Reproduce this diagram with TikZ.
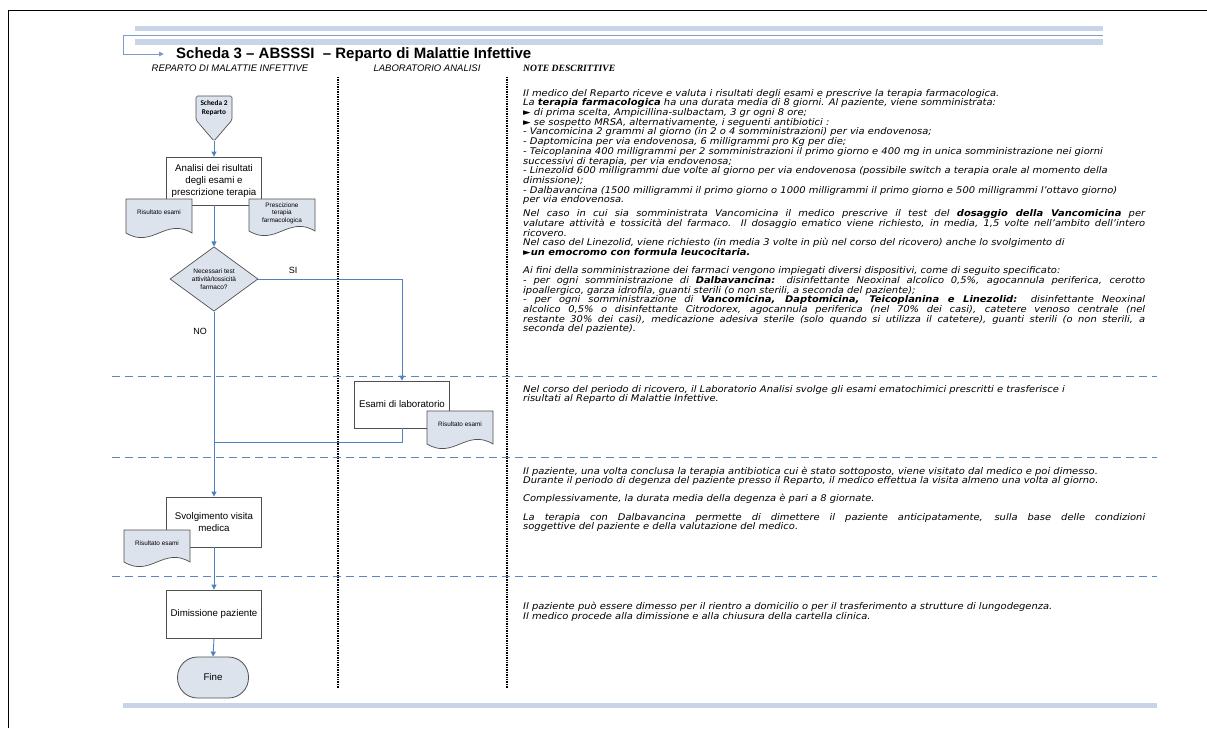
\documentclass[tikz,border=0pt]{standalone}
\usepackage{fontspec}
\setmainfont{Liberation Sans}
\newfontfamily\notefont[FakeStretch=1.08]{DejaVu Sans}
\newfontfamily\calfont{Carlito}
\newfontfamily\serfont{Liberation Serif}
\usetikzlibrary{arrows.meta,shapes.geometric}
\definecolor{connblue}{HTML}{4F81BD}
\definecolor{dashblue}{HTML}{5B85C5}
\definecolor{barblue}{HTML}{C8D4E8}
\definecolor{hdrblue}{HTML}{7C9CCB}
\definecolor{docfill}{HTML}{DCE3ED}
\definecolor{boxgray}{HTML}{505050}
\newcommand{\jl}[1]{\makebox[622pt][s]{#1}}
\newcommand{\docshape}[7]{%
  \filldraw[docstyle] (#2,#3) -- (#4,#3) -- (#4,#5)
    .. controls ({#2+0.6*(#4-#2)},{#5-16}) and ({#2+0.4*(#4-#2)},{#5+16}) .. (#2,#5) -- cycle;
  \node[doctext] (#1) at ({(#2+#4)/2},#6) {#7};
}
\tikzset{
  box/.style={draw=boxgray, fill=white, line width=0.8pt, align=center, inner sep=0pt,
    font=\fontsize{9.7}{12.2}\selectfont},
  docstyle/.style={draw=boxgray, fill=docfill, line width=0.7pt},
  doctext/.style={align=center, inner sep=0pt, font=\fontsize{6.4}{7.6}\selectfont},
  conn/.style={draw=connblue, line width=0.9pt},
  arr/.style={conn, -{Triangle[length=5pt,width=5pt]}},
  sep/.style={draw=dashblue, line width=1pt, dash pattern=on 8pt off 5pt},
  lane/.style={draw=black, line width=1.3pt, dash pattern=on 0.8pt off 0.9pt},
  notes/.style={anchor=north west, inner sep=0pt, align=left,
    font=\notefont\itshape\fontsize{9.2}{9.7}\selectfont},
  hdr/.style={inner sep=0pt, font=\itshape\fontsize{9.5}{11}\selectfont},
  lbl/.style={inner sep=0pt, font=\fontsize{9}{11}\selectfont},
}
\begin{document}
\begin{tikzpicture}[x=1pt,y=-1pt]
\useasboundingbox (0,0) rectangle (1207,728);
% frame
\draw[black, line width=1pt] (8,728) -- (8,10) -- (1207,10);
% header bars
\fill[barblue] (135,26) rectangle (1103,31);
\fill[barblue] (135,39) rectangle (1103,45);
\node[anchor=base west, inner sep=0pt, font=\bfseries\fontsize{15}{18}\selectfont] (title) at (176,58)
  {Scheda 3 -- ABSSSI \ -- Reparto di Malattie Infettive};
\coordinate (h0) at (1103,35);
\coordinate (h1) at (164,54);
\draw[draw=hdrblue, line width=0.9pt, -{Triangle[length=5pt,width=4.5pt]}] (h0) -- (123,35) -- (123,54) -- (h1);
% column headers
\node[hdr] (c1) at (230,68) {REPARTO DI MALATTIE INFETTIVE};
\node[hdr] (c2) at (427,68) {LABORATORIO ANALISI};
\node[anchor=west, inner sep=0pt, font=\serfont\bfseries\itshape\fontsize{9.6}{11}\selectfont] (c3) at (523,68) {NOTE DESCRITTIVE};
% lanes
\draw[lane] (338,77) -- (338,688);
\draw[lane] (507,77) -- (507,688);
\draw[sep] (112,376) -- (1157,376);
\draw[sep] (112,457) -- (1157,457);
\draw[sep] (112,576) -- (1157,576);
\fill[barblue] (123,703) rectangle (1157,708);
% off-page connector
\filldraw[docstyle, rounded corners=1.5pt] (196,96) -- (232,96) -- (232,120) -- (214,141) -- (196,120) -- cycle;
\node[align=center, inner sep=0pt, font=\calfont\bfseries\fontsize{7.3}{8.6}\selectfont] (scheda) at (214,108) {Scheda 2\\Reparto};
\coordinate (sch) at (214,141);
% flow boxes
\node[box, minimum width=95pt, minimum height=48pt] (analisi) at (214,181)
  {Analisi dei risultati\\degli esami e\\prescrizione terapia};
\docshape{d1}{126}{199}{192}{233}{212}{Risultato esami}
\docshape{d2}{249}{199}{315}{231}{213}{Prescizione\\terapia\\farmacologica}
\node[diamond, draw=boxgray, fill=docfill, line width=0.7pt, minimum width=88pt, minimum height=52pt,
  inner sep=0pt, align=center, font=\fontsize{6.5}{7.8}\selectfont] (dec) at (214,279)
  {Necessari test\\attività/tossicità\\farmaco?};
\node[box, minimum width=95pt, minimum height=47pt] (esami) at (402,404.5) {Esami di laboratorio};
\docshape{d3}{427}{411}{493}{444}{424}{Risultato esami}
\node[box, minimum width=95pt, minimum height=50pt] (svolg) at (214,522) {Svolgimento visita\\medica};
\docshape{d4}{124}{530}{190}{562}{543}{Risultato esami}
\node[box, minimum width=95pt, minimum height=48pt] (dimis) at (214,614) {Dimissione paziente};
\node[draw=boxgray, fill=docfill, line width=0.8pt, rounded corners=20pt, minimum width=71pt,
  minimum height=41pt, inner sep=0pt, font=\fontsize{9.7}{12}\selectfont] (fine) at (213,677.5) {Fine};
\coordinate (join) at (214,442);
% connectors
\draw[arr] (sch) -- (analisi.north);
\draw[arr] (analisi.south) -- (dec.north);
\draw[arr] (dec.east) -| (esami.north);
\draw[arr] (dec.south) -- (svolg.north);
\draw[conn] (esami.south) |- (join);
\draw[arr] (svolg.south) -- (dimis.north);
\draw[arr] (dimis.south) -- (fine.north);
\node[lbl] (si) at (293,270) {SI};
\node[lbl] (no) at (200,331) {NO};
% notes
\node[notes] (n1) at (523,89) {%
Il medico del Reparto riceve e valuta i risultati degli esami e prescrive la terapia farmacologica.\\
La \textbf{terapia farmacologica} ha una durata media di 8 giorni. Al paziente, viene somministrata:\\
► di prima scelta, Ampicillina-sulbactam, 3 gr ogni 8 ore;\\
► se sospetto MRSA, alternativamente, i seguenti antibiotici :\\
- Vancomicina 2 grammi al giorno (in 2 o 4 somministrazioni) per via endovenosa;\\
- Daptomicina per via endovenosa, 6 milligrammi pro Kg per die;\\
- Teicoplanina 400 milligrammi per 2 somministrazioni il primo giorno e 400 mg in unica somministrazione nei giorni\\
successivi di terapia, per via endovenosa;\\
- Linezolid 600 milligrammi due volte al giorno per via endovenosa (possibile switch a terapia orale al momento della\\
dimissione);\\
- Dalbavancina (1500 milligrammi il primo giorno o 1000 milligrammi il primo giorno e 500 milligrammi l’ottavo giorno)\\
per via endovenosa.\\[4.3pt]
\jl{Nel caso in cui sia somministrata Vancomicina il medico prescrive il test del \textbf{dosaggio della Vancomicina} per}\\
\jl{valutare attività e tossicità del farmaco. Il dosaggio ematico viene richiesto, in media, 1,5 volte nell’ambito dell’intero}\\
ricovero.\\
Nel caso del Linezolid, viene richiesto (in media 3 volte in più nel corso del ricovero) anche lo svolgimento di\\
\textbf{►un emocromo con formula leucocitaria.}\\[8.3pt]
Ai fini della somministrazione dei farmaci vengono impiegati diversi dispositivi, come di seguito specificato:\\
\jl{- per ogni somministrazione di \textbf{Dalbavancina:} disinfettante Neoxinal alcolico 0,5\%, agocannula periferica, cerotto}\\
ipoallergico, garza idrofila, guanti sterili (o non sterili, a seconda del paziente);\\
\jl{- per ogni somministrazione di \textbf{Vancomicina, Daptomicina, Teicoplanina e Linezolid:} disinfettante Neoxinal}\\
\jl{alcolico 0,5\% o disinfettante Citrodorex, agocannula periferica (nel 70\% dei casi), catetere venoso centrale (nel}\\
\jl{restante 30\% dei casi), medicazione adesiva sterile (solo quando si utilizza il catetere), guanti sterili (o non sterili, a}\\
seconda del paziente).};
\node[notes] (n2) at (523,385) {%
Nel corso del periodo di ricovero, il Laboratorio Analisi svolge gli esami ematochimici prescritti e trasferisce i\\
risultati al Reparto di Malattie Infettive.};
\node[notes] (n3) at (523,466.5) {%
Il paziente, una volta conclusa la terapia antibiotica cui è stato sottoposto, viene visitato dal medico e poi dimesso.\\
Durante il periodo di degenza del paziente presso il Reparto, il medico effettua la visita almeno una volta al giorno.\\[8pt]
Complessivamente, la durata media della degenza è pari a 8 giornate.\\[9pt]
\jl{La terapia con Dalbavancina permette di dimettere il paziente anticipatamente, sulla base delle condizioni}\\
soggettive del paziente e della valutazione del medico.};
\node[notes] (n4) at (523,602) {%
Il paziente può essere dimesso per il rientro a domicilio o per il trasferimento a strutture di lungodegenza.\\
Il medico procede alla dimissione e alla chiusura della cartella clinica.};
\end{tikzpicture}
\end{document}
